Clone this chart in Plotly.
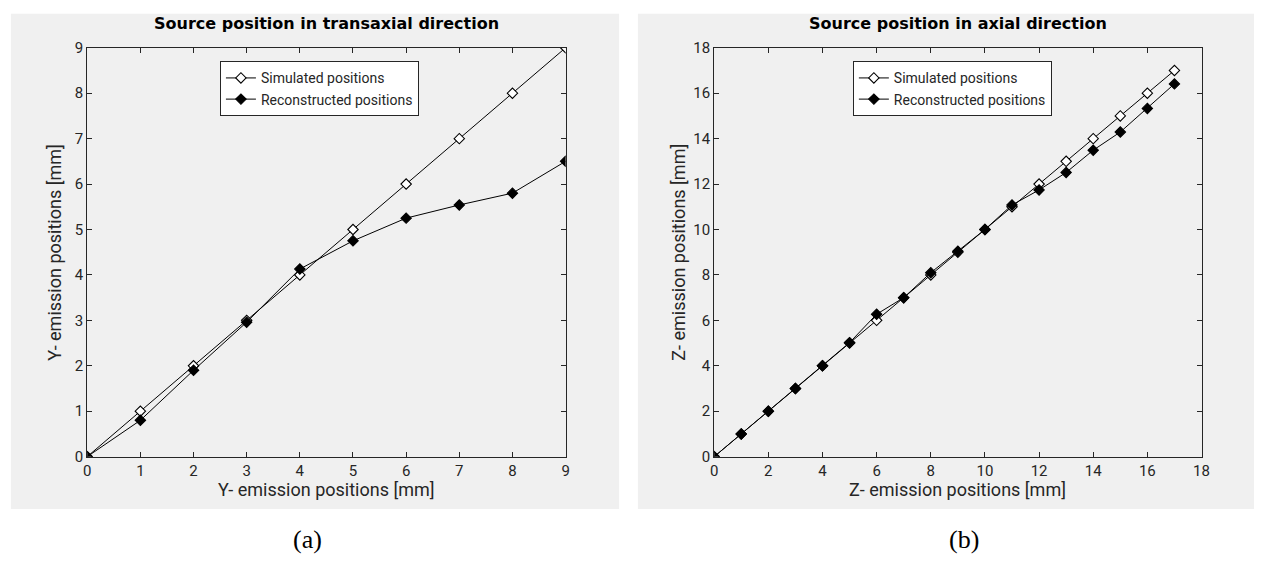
import plotly.graph_objects as go

W, H = 1264, 580

# ---- data ----
y_positions = [0, 1, 2, 3, 4, 5, 6, 7, 8, 9]
y_simulated = [0, 1, 2, 3, 4, 5, 6, 7, 8, 9]
y_reconstructed = [0, 0.8, 1.9, 2.96, 4.13, 4.75, 5.25, 5.54, 5.8, 6.5]

z_positions = [0, 1, 2, 3, 4, 5, 6, 7, 8, 9, 10, 11, 12, 13, 14, 15, 16, 17]
z_simulated = [0, 1, 2, 3, 4, 5, 6, 7, 8, 9, 10, 11, 12, 13, 14, 15, 16, 17]
z_reconstructed = [0, 1, 2, 3, 4, 5.02, 6.27, 7, 8.1, 9.04, 10.0, 11.08, 11.74,
                   12.51, 13.49, 14.29, 15.33, 16.41]

left_ticks = list(range(0, 10))
right_ticks = list(range(0, 19, 2))

titles = ["Source position in transaxial direction", "Source position in axial direction"]
xlabels = ["Y- emission positions [mm]", "Z- emission positions [mm]"]
ylabels = ["Y- emission positions [mm]", "Z- emission positions [mm]"]
names = ["Simulated positions", "Reconstructed positions"]
panel_tags = ["(a)", "(b)"]

FONT = "Roboto"
AX = "#262626"

def px(x):
    return x / W

def py(y):
    return 1 - y / H

fig = go.Figure()

sim_marker = dict(symbol="diamond", size=8, color="white", line=dict(color="black", width=1.1))
rec_marker = dict(symbol="diamond", size=8, color="black", line=dict(color="black", width=1.1))

fig.add_trace(go.Scatter(x=y_positions, y=y_simulated, mode="lines+markers", name=names[0],
                         line=dict(color="black", width=1), marker=sim_marker,
                         xaxis="x", yaxis="y", legend="legend"))
fig.add_trace(go.Scatter(x=y_positions, y=y_reconstructed, mode="lines+markers", name=names[1],
                         line=dict(color="black", width=1), marker=rec_marker,
                         xaxis="x", yaxis="y", legend="legend"))
fig.add_trace(go.Scatter(x=z_positions, y=z_simulated, mode="lines+markers", name=names[0],
                         line=dict(color="black", width=1), marker=sim_marker,
                         xaxis="x2", yaxis="y2", legend="legend2"))
fig.add_trace(go.Scatter(x=z_positions, y=z_reconstructed, mode="lines+markers", name=names[1],
                         line=dict(color="black", width=1), marker=rec_marker,
                         xaxis="x2", yaxis="y2", legend="legend2"))

axis_common = dict(showline=True, linecolor=AX, linewidth=1, mirror="ticks", ticks="inside",
                   ticklen=5, tickcolor=AX, showgrid=False, zeroline=False,
                   tickfont=dict(family=FONT, size=15, color=AX))

ydom = [py(462), py(40)]
fig.update_layout(
    width=W, height=H,
    margin=dict(l=0, r=0, t=0, b=0),
    paper_bgcolor="white", plot_bgcolor="white",
    font=dict(family=FONT, color=AX),
    xaxis=dict(domain=[px(84), px(567)], range=[0, 9], tickvals=left_ticks,
               anchor="y", **axis_common),
    yaxis=dict(domain=ydom, range=[0, 9], tickvals=left_ticks,
               anchor="x", **axis_common),
    xaxis2=dict(domain=[px(717), px(1209)], range=[0, 18], tickvals=right_ticks,
                anchor="y2", **axis_common),
    yaxis2=dict(domain=ydom, range=[0, 18], tickvals=right_ticks,
                anchor="x2", **axis_common),
    legend=dict(x=px(218), y=py(54), xanchor="left", yanchor="top",
                bgcolor="white", bordercolor=AX, borderwidth=1,
                font=dict(family=FONT, size=14, color=AX), tracegroupgap=0,
                itemwidth=30),
    legend2=dict(x=px(857), y=py(54), xanchor="left", yanchor="top",
                 bgcolor="white", bordercolor=AX, borderwidth=1,
                 font=dict(family=FONT, size=14, color=AX), tracegroupgap=0,
                 itemwidth=30),
    showlegend=True,
)

# gray figure panels
for x0, x1 in [(7, 621), (640, 1262)]:
    fig.add_shape(type="rect", xref="paper", yref="paper", x0=px(x0), x1=px(x1),
                  y0=py(516), y1=py(5), fillcolor="#f0f0f0", line=dict(width=0), layer="below")

# titles
for cx, t in [((84 + 567) / 2, titles[0]), ((717 + 1209) / 2, titles[1])]:
    fig.add_annotation(x=px(cx), y=py(15), xref="paper", yref="paper", text="<b>" + t + "</b>",
                       showarrow=False, font=dict(family="DejaVu Sans", size=16, color="black"),
                       xanchor="center", yanchor="middle")

# axis titles
for cx, t in [((84 + 567) / 2, xlabels[0]), ((717 + 1209) / 2, xlabels[1])]:
    fig.add_annotation(x=px(cx), y=py(496), xref="paper", yref="paper", text=t,
                       showarrow=False, font=dict(family=FONT, size=18, color=AX),
                       xanchor="center", yanchor="middle")
for cx, t in [(51, ylabels[0]), (681, ylabels[1])]:
    fig.add_annotation(x=px(cx), y=py(251), xref="paper", yref="paper", text=t,
                       textangle=-90, showarrow=False, font=dict(family=FONT, size=18, color=AX),
                       xanchor="center", yanchor="middle")

# panel tags
for cx, t in [(306, panel_tags[0]), (969, panel_tags[1])]:
    fig.add_annotation(x=px(cx), y=py(548), xref="paper", yref="paper", text=t,
                       showarrow=False, font=dict(family="Liberation Serif", size=26, color="black"),
                       xanchor="center", yanchor="middle")

fig.write_html("out.html")
